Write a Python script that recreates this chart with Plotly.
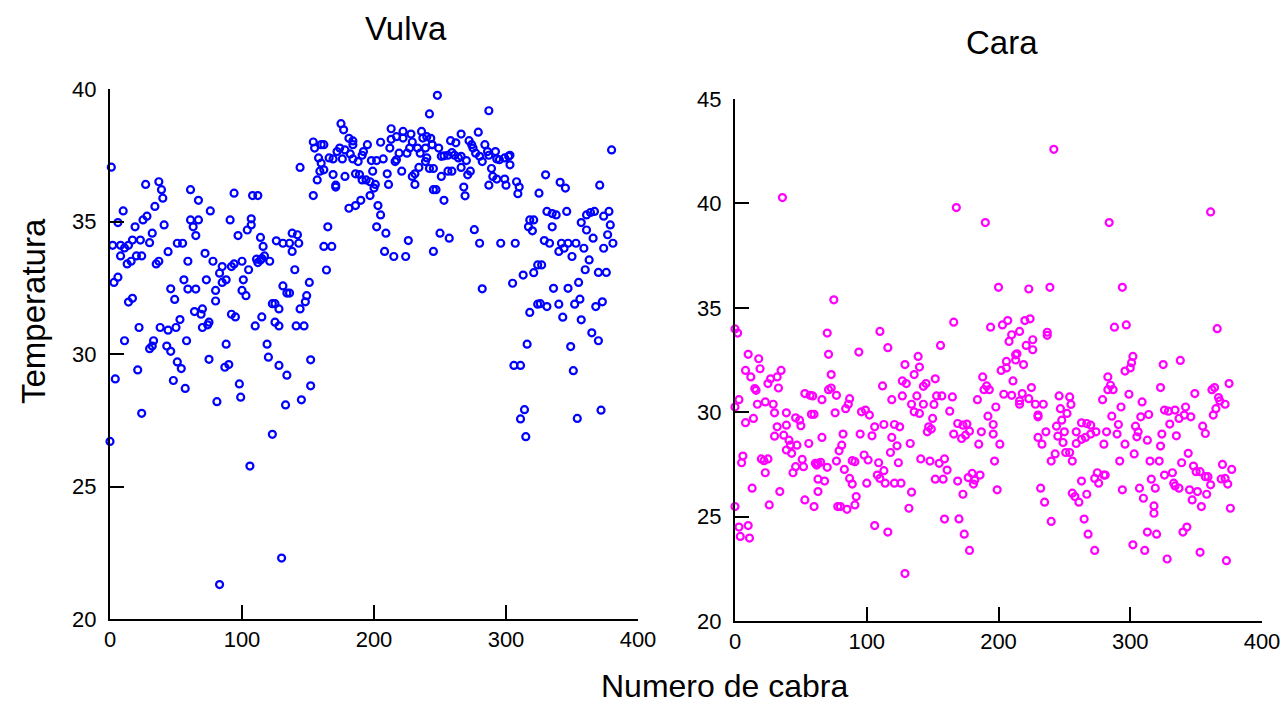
import plotly.graph_objects as go

# ---------------- data ----------------
x_ticks = [0, 100, 200, 300, 400]
vulva_ticks = [20, 25, 30, 35, 40]
cara_ticks = [20, 25, 30, 35, 40, 45]

vulva_x = [
    1, 0, 4, 3, 6, 2, 6, 10, 8, 8,
    11, 14, 13, 16, 14, 17, 11, 19, 17, 23,
    20, 24, 21, 22, 24, 27, 25, 28, 30, 32,
    35, 37, 30, 32, 33, 37, 39, 40, 34, 41,
    38, 44, 43, 46, 51, 54, 48, 44, 46, 49,
    51, 55, 50, 53, 57, 58, 59, 61, 64, 69,
    67, 61, 67, 63, 65, 56, 59, 65, 70, 70,
    74, 75, 72, 73, 76, 78, 75, 80, 80, 81,
    154, 155, 160, 158, 160, 159, 157, 144, 154, 94,
    108, 112, 91, 107, 107, 104, 97, 114, 116, 126,
    131, 136, 143, 138, 142, 138, 85, 83, 92, 94,
    100, 105, 111, 114, 117, 121, 112, 115, 140, 85,
    88, 101, 100, 103, 131, 134, 136, 151, 149, 148,
    144, 123, 125, 128, 92, 95, 115, 110, 125, 128,
    141, 147, 88, 119, 120, 128, 134, 152, 87, 90,
    98, 99, 152, 145, 133, 123, 106, 130, 83,
    242, 175, 177, 181, 184, 184, 162, 174, 172, 178,
    182, 176, 166, 169, 184, 188, 192, 195, 191, 198,
    202, 207, 205, 213, 213, 212, 217, 222, 222, 228,
    229, 236, 237, 240, 244, 227, 233, 235, 239, 219,
    217, 216, 225, 240, 242, 239, 234, 231, 229, 231,
    221, 210, 211, 199, 201, 200, 186, 189, 191, 194,
    197, 162, 169, 178, 171, 171, 197, 190, 186, 181,
    203, 205, 245, 165, 202, 209, 162, 168, 208, 215,
    224, 226, 245, 164,
    248, 287, 266, 279, 258, 262, 272, 274, 243, 244,
    249, 253, 251, 256, 259, 261, 264, 266, 270, 275,
    277, 280, 282, 284, 286, 287, 292, 293, 295, 299,
    302, 303, 303, 289, 290, 245, 256, 259, 266, 273,
    271, 251, 247, 253, 293, 299, 300, 287, 268, 269,
    308, 310, 309, 325, 250, 257, 276, 280, 296, 307,
    318, 321, 317, 320, 282, 305, 313, 321, 324, 318,
    324, 316, 306, 311, 314, 311, 315,
    380, 330, 341, 345, 371, 331, 335, 338, 346, 357,
    361, 364, 367, 378, 374, 379, 335, 361, 366, 377,
    329, 333, 342, 347, 353, 359, 381, 374, 340, 344,
    350, 363, 327, 360, 370, 376, 355, 336, 347, 356,
    352, 340, 331, 326, 368, 373, 343, 357, 365, 370,
    349, 351, 372, 354,
]
vulva_y = [
    37.05, 26.7, 29.06, 32.7, 32.9, 34.1, 34.96, 35.4, 33.7, 34.1,
    34.0, 34.1, 33.4, 33.5, 31.96, 32.1, 30.5, 34.8, 34.3, 34.3,
    33.7, 33.7, 29.4, 31.0, 27.76, 36.4, 35.06, 35.2, 34.2, 34.56,
    33.4, 33.5, 30.2, 30.3, 30.5, 36.5, 36.2, 35.88, 35.57, 34.87,
    31.0, 30.9, 30.3, 30.1, 29.7, 29.45, 29.0, 33.86, 32.46, 32.06,
    34.18, 34.18, 31.0, 31.3, 28.7, 30.5, 33.5, 36.2, 31.6, 31.5,
    35.8, 35.06, 35.06, 34.8, 34.47, 32.8, 32.45, 32.45, 31.7, 31.0,
    31.1, 31.2, 33.8, 32.8, 35.4, 33.5, 29.8, 32.4, 32.0, 28.2,
    38.0, 37.77, 37.9, 37.4, 37.2, 36.9, 36.57, 37.04, 35.98, 36.07,
    35.98, 35.98, 35.06, 35.1, 34.87, 34.68, 34.47, 34.4, 34.06, 34.27,
    34.18, 34.18, 34.18, 34.56, 34.5, 33.87, 33.3, 33.05, 33.3, 33.4,
    33.5, 33.18, 33.58, 33.55, 33.7, 33.5, 33.45, 33.6, 33.18, 32.7,
    32.8, 32.8, 32.4, 32.2, 32.57, 32.3, 32.3, 32.7, 32.2, 31.97,
    31.7, 31.9, 31.9, 31.7, 31.5, 31.4, 31.4, 31.06, 31.2, 31.06,
    31.06, 31.06, 30.37, 30.37, 29.88, 29.57, 29.2, 29.78, 29.5, 29.6,
    28.87, 28.37, 28.8, 28.27, 28.08, 26.97, 25.77, 22.3, 21.3,
    39.06, 38.69, 38.46, 38.14, 38.04, 37.9, 37.9, 37.77, 37.64, 37.7,
    37.55, 37.36, 37.4, 37.36, 37.36, 37.26, 37.64, 37.9, 37.5, 37.3,
    37.3, 37.36, 37.99, 38.5, 38.1, 37.77, 38.2, 38.4, 38.15, 38.3,
    38.0, 38.4, 38.15, 38.2, 37.9, 37.77, 37.77, 37.58, 37.77, 37.58,
    37.33, 37.26, 37.58, 37.4, 37.0, 37.26, 37.04, 36.8, 36.7, 36.4,
    36.9, 36.8, 36.4, 36.9, 36.4, 36.26, 36.8, 36.77, 36.57, 36.57,
    36.5, 36.95, 36.77, 36.7, 36.37, 36.3, 35.98, 35.8, 35.6, 35.5,
    35.6, 35.25, 36.2, 34.8, 34.8, 34.56, 34.06, 34.06, 33.87, 33.68,
    33.68, 34.28, 33.87, 33.17,
    39.76, 39.18, 38.3, 38.37, 38.05, 37.97, 38.05, 37.9, 38.14, 37.9,
    37.77, 37.48, 37.46, 37.5, 37.6, 37.5, 37.4, 37.46, 37.3, 37.77,
    37.58, 37.46, 37.26, 37.9, 37.64, 37.5, 37.64, 37.36, 37.33, 37.4,
    37.46, 37.5, 37.14, 37.0, 36.7, 37.0, 36.9, 36.9, 37.04, 36.9,
    36.76, 36.7, 36.2, 35.8, 36.6, 36.6, 36.37, 36.37, 36.3, 35.97,
    36.5, 36.3, 36.05, 36.07, 34.56, 34.37, 34.69, 34.18, 34.18, 34.18,
    35.06, 35.06, 34.8, 34.65, 32.46, 32.67, 32.98, 33.07, 33.36, 31.57,
    31.88, 30.37, 29.57, 29.57, 27.9, 27.55, 26.88,
    37.7, 36.76, 36.48, 36.26, 36.37, 35.38, 35.3, 35.25, 35.38, 34.96,
    35.25, 35.34, 35.38, 35.38, 35.2, 34.87, 34.8, 34.68, 34.37, 34.5,
    34.28, 34.18, 34.18, 34.18, 34.18, 33.99, 34.18, 33.99, 33.87, 33.99,
    33.68, 33.55, 33.36, 33.18, 33.08, 33.08, 32.7, 32.48, 32.48, 32.07,
    31.88, 31.88, 31.79, 31.9, 31.79, 31.97, 31.39, 31.29, 30.8, 30.5,
    30.28, 29.37, 27.88, 27.57,
]

cara_x = [
    36, 75, 0, 2, 70, 71, 10, 18, 19, 35,
    32, 27, 25, 33, 8, 12, 73, 73, 71, 77,
    15, 16, 53, 57, 59, 66, 3, 0, 17, 23,
    29, 30, 58, 60, 76, 39, 39, 32, 30, 37,
    46, 49, 50, 14, 8, 41, 42, 47, 56, 66,
    39, 43, 6, 5, 20, 22, 25, 51, 52, 46,
    44, 61, 63, 65, 70, 62, 77, 23, 63, 68,
    13, 34, 63, 26, 53, 60, 78, 0, 3, 10,
    4, 11,
    110, 94, 116, 156, 129, 139, 140, 136, 127, 130,
    143, 145, 152, 112, 87, 86, 84, 119, 127, 138,
    134, 143, 136, 140, 151, 153, 157, 96, 99, 102,
    150, 147, 149, 146, 106, 113, 121, 125, 104, 82,
    95, 119, 123, 133, 81, 79, 118, 98, 101, 91,
    89, 109, 124, 83, 141, 148, 155, 159, 161, 113,
    108, 110, 114, 121, 126, 87, 89, 100, 152, 158,
    134, 92, 91, 80, 85, 132, 159, 106, 116, 129,
    242, 168, 190, 200, 223, 239, 166, 194, 203, 207,
    220, 224, 237, 237, 216, 210, 208, 221, 226, 226,
    213, 214, 213, 219, 206, 206, 202, 188, 211, 225,
    191, 189, 193, 204, 210, 218, 216, 216, 223, 228,
    234, 165, 163, 184, 198, 230, 230, 192, 196, 169,
    173, 176, 178, 175, 166, 172, 187, 196, 185, 201,
    230, 233, 236, 197, 240, 243, 169, 173, 177, 180,
    182, 181, 186, 199, 232, 235, 170, 174, 178, 240,
    284, 294, 288, 297, 302, 301, 300, 296, 325, 283,
    285, 287, 283, 323, 299, 279, 309, 246, 254, 255,
    247, 252, 293, 286, 291, 308, 314, 248, 244, 250,
    245, 249, 263, 267, 270, 274, 270, 266, 259, 263,
    259, 282, 290, 304, 306, 305, 313, 324, 280, 296,
    323, 251, 254, 303, 256, 292, 315, 322, 275, 273,
    276, 280, 281, 263, 316, 307, 319, 326, 294, 256,
    258, 261, 267, 310, 318, 318, 265, 268, 313, 320,
    273, 302, 311,
    361, 366, 338, 375, 362, 364, 349, 367, 368, 372,
    365, 363, 326, 329, 334, 342, 341, 346, 337, 330,
    355, 357, 335, 344, 339, 348, 350, 353, 357, 359,
    361, 358, 370, 377, 369, 372, 374, 332, 333, 334,
    337, 345, 347, 351, 354, 376, 343, 340, 328, 353,
    373,
]
cara_y = [
    40.28, 35.38, 33.99, 33.79, 33.79, 32.77, 32.77, 32.56, 32.08, 32.0,
    31.69, 31.6, 31.37, 31.16, 32.0, 31.69, 31.8, 31.16, 31.08, 30.81,
    31.13, 31.05, 30.89, 30.81, 30.78, 30.6, 30.6, 30.25, 30.38, 30.49,
    30.38, 29.97, 29.9, 29.9, 29.97, 29.97, 29.38, 29.3, 28.85, 28.9,
    29.73, 29.62, 29.35, 29.7, 29.5, 28.66, 28.42, 28.42, 28.5, 28.79,
    28.19, 28.03, 27.9, 27.58, 27.76, 27.68, 27.76, 27.74, 27.39, 27.39,
    27.1, 27.55, 27.55, 27.6, 27.36, 27.47, 27.66, 27.1, 26.79, 26.7,
    26.36, 26.2, 26.2, 25.56, 25.8, 25.48, 25.48, 25.48, 24.5, 24.57,
    24.05, 23.97,
    33.87, 32.88, 33.09, 33.2, 32.28, 32.67, 32.16, 31.8, 31.5, 31.37,
    31.24, 31.37, 31.6, 31.26, 30.65, 30.38, 30.17, 30.6, 30.78, 30.78,
    30.38, 30.38, 30.02, 29.94, 30.37, 30.78, 30.78, 30.02, 30.1, 29.86,
    29.7, 29.3, 29.19, 29.06, 29.3, 29.41, 29.41, 29.3, 28.87, 28.95,
    28.95, 28.79, 28.39, 28.5, 28.42, 28.15, 28.07, 27.95, 27.71, 27.63,
    27.68, 27.58, 27.58, 27.26, 27.76, 27.66, 27.55, 27.76, 27.23, 27.2,
    26.99, 26.83, 26.6, 26.6, 26.6, 26.83, 26.56, 26.6, 26.79, 26.79,
    26.17, 25.96, 25.56, 25.48, 25.35, 25.4, 24.88, 24.57, 24.26, 22.27,
    42.59, 39.8, 39.08, 35.98, 35.9, 35.98, 34.31, 34.07, 34.18, 34.39,
    34.39, 34.47, 33.83, 33.68, 33.87, 33.71, 33.39, 33.2, 33.47, 32.99,
    32.75, 32.8, 32.5, 32.28, 32.43, 32.12, 32.0, 31.69, 31.5, 31.18,
    31.26, 31.08, 31.08, 30.86, 30.81, 30.89, 30.54, 30.38, 30.65, 30.38,
    30.38, 30.73, 30.05, 30.6, 30.25, 29.86, 29.78, 29.81, 29.41, 29.46,
    29.38, 29.43, 29.09, 28.9, 28.95, 28.74, 29.06, 28.95, 28.47, 28.47,
    28.79, 28.47, 29.06, 27.66, 27.66, 28.0, 26.7, 26.07, 26.87, 27.07,
    26.75, 26.56, 26.99, 26.28, 26.36, 25.69, 24.89, 24.16, 23.38, 24.77,
    39.08, 35.98, 34.07, 34.18, 32.67, 32.37, 32.12, 31.97, 32.28, 31.69,
    31.29, 31.08, 31.08, 31.18, 30.86, 30.6, 30.49, 30.78, 30.73, 30.37,
    30.17, 29.94, 30.25, 29.81, 29.41, 29.78, 29.89, 29.62, 29.33, 29.06,
    28.85, 28.55, 29.49, 29.46, 29.38, 29.06, 28.95, 28.79, 29.06, 28.7,
    28.5, 29.06, 28.95, 29.33, 29.06, 28.82, 28.66, 28.95, 28.47, 28.47,
    28.38, 28.07, 28.07, 28.0, 27.66, 27.66, 27.66, 27.66, 27.1, 26.83,
    26.6, 26.99, 26.99, 26.7, 26.79, 26.36, 26.36, 26.99, 26.28, 26.12,
    25.96, 25.69, 26.07, 25.88, 25.51, 25.16, 24.88, 24.16, 24.26, 24.16,
    23.38, 23.65, 23.38,
    39.59, 34.0, 32.48, 31.37, 31.08, 31.18, 30.89, 30.7, 30.54, 30.38,
    30.17, 29.86, 30.1, 30.05, 30.1, 30.25, 29.86, 29.78, 29.7, 29.43,
    29.33, 28.98, 28.87, 28.03, 27.58, 27.42, 27.15, 27.15, 26.91, 26.91,
    26.52, 26.07, 27.5, 27.26, 26.8, 26.83, 26.56, 27.1, 26.6, 26.47,
    26.36, 26.28, 25.8, 26.2, 25.48, 25.4, 24.5, 24.26, 22.97, 23.29,
    22.89,
]

# ---------------- figure ----------------
FONT = "Arial, 'Liberation Sans', sans-serif"
W, H = 1280, 704

fig = go.Figure()
fig.add_trace(go.Scatter(
    x=vulva_x, y=vulva_y, mode="markers", xaxis="x", yaxis="y",
    marker=dict(symbol="circle-open", size=7, color="#0000FF",
                line=dict(width=2.2, color="#0000FF")),
    cliponaxis=False, showlegend=False, name="Vulva"))
fig.add_trace(go.Scatter(
    x=cara_x, y=cara_y, mode="markers", xaxis="x2", yaxis="y2",
    marker=dict(symbol="circle-open", size=7, color="#FF00FF",
                line=dict(width=2.2, color="#FF00FF")),
    cliponaxis=False, showlegend=False, name="Cara"))

axis_style = dict(
    showline=True, linecolor="black", linewidth=2,
    ticks="inside", ticklen=14, tickwidth=2, tickcolor="black",
    showgrid=False, zeroline=False, automargin=False,
    ticklabeloverflow="allow",
    tickfont=dict(family=FONT, size=22, color="black"),
)

fig.update_layout(
    width=W, height=H,
    margin=dict(l=0, r=0, t=0, b=0),
    paper_bgcolor="white", plot_bgcolor="white",
    xaxis=dict(axis_style, domain=[110 / W, 638 / W], range=[0, 400],
               tickvals=x_ticks, anchor="y"),
    yaxis=dict(axis_style, domain=[85 / H, 615 / H], range=[20, 40],
               tickvals=vulva_ticks, anchor="x", ticklabelstandoff=7),
    xaxis2=dict(axis_style, domain=[735 / W, 1262 / W], range=[0, 400],
                tickvals=x_ticks, anchor="y2"),
    yaxis2=dict(axis_style, domain=[83 / H, 605 / H], range=[20, 45],
                tickvals=cara_ticks, anchor="x2", ticklabelstandoff=7),
    annotations=[
        dict(text="Vulva", x=406 / W, y=1 - 28 / H, xref="paper", yref="paper",
             xanchor="center", yanchor="middle", showarrow=False,
             font=dict(family=FONT, size=33, color="black")),
        dict(text="Cara", x=1002 / W, y=1 - 42 / H, xref="paper", yref="paper",
             xanchor="center", yanchor="middle", showarrow=False,
             font=dict(family=FONT, size=33, color="black")),
        dict(text="Temperatura", x=33 / W, y=1 - 311 / H, xref="paper", yref="paper",
             xanchor="center", yanchor="middle", showarrow=False, textangle=-90,
             font=dict(family=FONT, size=33, color="black")),
        dict(text="Numero de cabra", x=724 / W, y=1 - 686 / H, xref="paper", yref="paper",
             xanchor="center", yanchor="middle", showarrow=False,
             font=dict(family=FONT, size=32, color="black")),
    ],
)

fig.write_html(
    "out.html",
    config={"displayModeBar": False},
    post_script="document.body.style.margin='0';document.body.style.overflow='hidden';",
)
